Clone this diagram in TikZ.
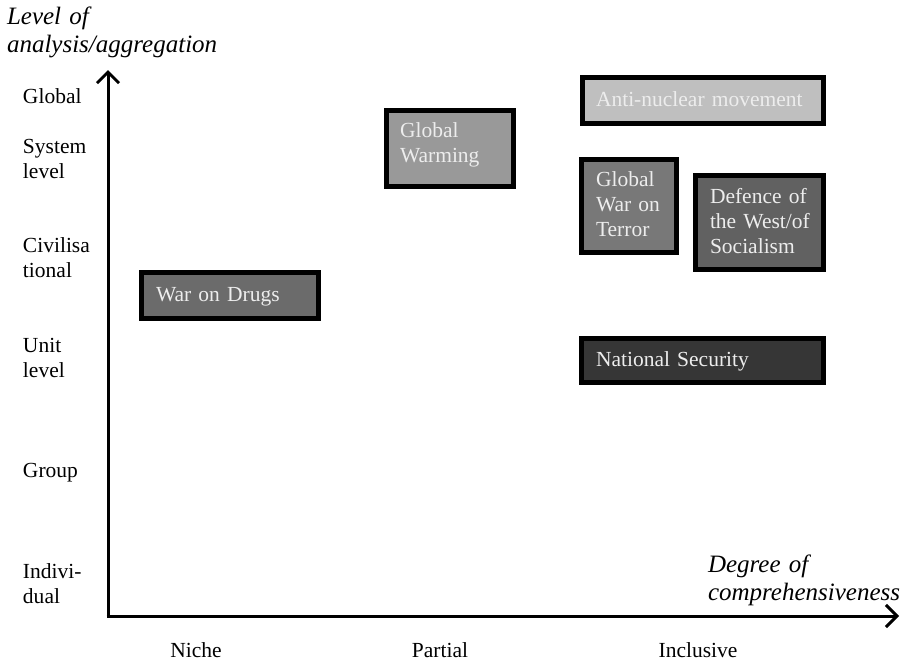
\documentclass[tikz,border=0pt]{standalone}
\usepackage{fontspec}
\setmainfont{Liberation Serif}
\usetikzlibrary{arrows.meta}
\begin{document}
\begin{tikzpicture}[x=1pt,y=-1pt,
  every node/.style={inner sep=0pt, outer sep=0pt},
  lbl/.style={anchor=base west, font=\fontsize{21.5}{25}\selectfont, align=left, text width=80pt},
  ttl/.style={anchor=base west, font=\fontsize{25}{28.5}\selectfont\itshape, align=left, text width=300pt},
  xlbl/.style={anchor=base, font=\fontsize{21.5}{25}\selectfont},
  box/.style={draw=black, line width=5pt, anchor=north west},
  btxt/.style={anchor=base west, font=\fontsize{21.5}{25}\selectfont, align=left, text width=300pt, text=white!93!black},
  axis/.style={line width=3pt, -{Straight Barb[length=11pt,width=22pt,line width=3pt]}}
]
\useasboundingbox (0,0) rectangle (907,664);
% axes
\coordinate (o) at (108,616);
\coordinate (ytop) at (108,70);
\coordinate (xend) at (899,616);
\draw[axis] (o) -- (ytop);
\draw[axis] ([xshift=-1.5pt]o) -- (xend);
% axis titles
\node[ttl] (yt) at (7,24) {Level of\\analysis/aggregation};
\node[ttl] (xt) at (708,572) {Degree of\\comprehensiveness};
% y labels
\node[lbl] (l1) at (23,103) {Global};
\node[lbl] (l2) at (23,153) {System\\level};
\node[lbl] (l3) at (23,252) {Civilisa\\tional};
\node[lbl] (l4) at (23,352) {Unit\\level};
\node[lbl] (l5) at (23,477) {Group};
\node[lbl] (l6) at (23,578) {Indivi-\\dual};
% x labels
\node[xlbl] (x1) at (196,657) {Niche};
\node[xlbl] (x2) at (440,657) {Partial};
\node[xlbl] (x3) at (698,657) {Inclusive};
% boxes
\node[box, fill=black!25, minimum width=241pt, minimum height=46pt] (an) at (582.5,77.5) {};
\node[btxt] (ant) at (596,106) {Anti-nuclear movement};
\node[box, fill=black!40, minimum width=127pt, minimum height=76pt] (gw) at (386.5,110.5) {};
\node[btxt] (gwt) at (400,137) {Global\\Warming};
\node[box, fill=black!53, minimum width=95pt, minimum height=93pt] (gt) at (581.5,159.5) {};
\node[btxt] (gtt) at (596,186) {Global\\War on\\Terror};
\node[box, fill=black!62, minimum width=128pt, minimum height=94pt] (dw) at (695.5,175.5) {};
\node[btxt] (dwt) at (710,203) {Defence of\\the West/of\\Socialism};
\node[box, fill=black!58, minimum width=177pt, minimum height=46pt] (wd) at (141.5,272.5) {};
\node[btxt] (wdt) at (156,301) {War on Drugs};
\node[box, fill=black!79, minimum width=242pt, minimum height=44pt] (ns) at (581.5,338.5) {};
\node[btxt] (nst) at (596,366) {National Security};
\end{tikzpicture}
\end{document}
